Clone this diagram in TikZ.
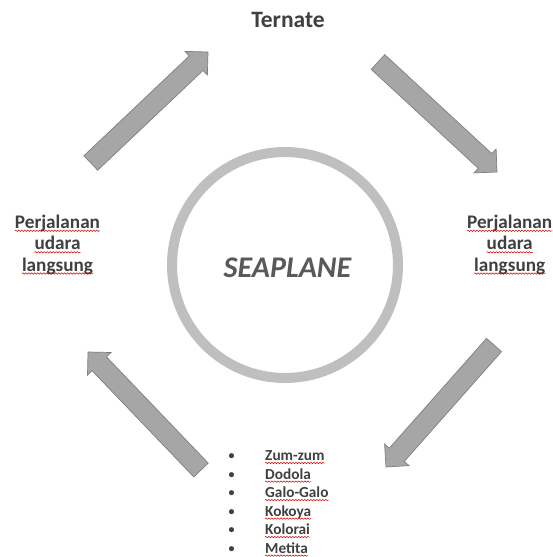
\documentclass[tikz,border=0pt]{standalone}
\usepackage{fontspec}
\setmainfont{Carlito}
\usetikzlibrary{calc,decorations.pathmorphing}
\definecolor{txt}{HTML}{404040}
\definecolor{seatxt}{HTML}{595959}
\definecolor{ring}{HTML}{BFBFBF}
\definecolor{afill}{HTML}{A6A6A6}
\definecolor{aline}{HTML}{7F7F7F}
\newcommand\blockarr[2]{%
  \coordinate (bt) at (#1);
  \coordinate (bh) at ($(#2)!16.3pt!(#1)$);
  \draw[barrow] ($(bt)!10pt!-90:(bh)$) -- ($(bh)!10pt!90:(bt)$) -- ($(bh)!16.3pt!90:(bt)$)
    -- (#2) -- ($(bh)!16.3pt!-90:(bt)$) -- ($(bh)!10pt!-90:(bt)$) -- ($(bt)!10pt!90:(bh)$) -- cycle;}
\begin{document}
\begin{tikzpicture}[x=1pt,y=-1pt,
  barrow/.style={fill=afill,draw=aline,line width=0.7pt,line join=miter},
  lbl/.style={text=txt,font=\fontsize{19.2}{21.5}\selectfont\bfseries,align=center,anchor=base,inner sep=0pt},
  item/.style={text=txt,font=\fontsize{15.3}{18}\selectfont\bfseries,anchor=base west,inner sep=0pt},
  bul/.style={text=txt,font=\fontsize{12}{18}\selectfont\bfseries,anchor=base,inner sep=0pt},
  spell/.style={draw=red!85!black,line width=0.5pt,decorate,decoration={snake,amplitude=0.7pt,segment length=3pt}}]
\useasboundingbox (0,0) rectangle (553,557);
\fill[white] (0,0) rectangle (553,557);
% ring
\node (ringc) at (285,265) [circle,draw=ring,line width=10pt,minimum size=226pt,inner sep=0pt] {};
\node (sea) at (287.5,277.3) [anchor=base,inner sep=0pt,text=seatxt,font=\fontsize{30}{32}\selectfont\bfseries\itshape] {SEAPLANE};
% title
\node (ternate) at (288,27) [anchor=base,inner sep=0pt,text=txt,font=\fontsize{23.5}{26}\selectfont\bfseries] {Ternate};
% left label
\foreach \w/\yy/\nm in {Perjalanan/228.3/la, udara/249.8/lb, langsung/271/lc}{
  \node[lbl] (\nm) at (57.5,\yy) {\w};
  \draw[spell] ($(\nm.base west)+(0,2.5)$) -- ($(\nm.base east)+(0,2.5)$);
}
% right label
\foreach \w/\yy/\nm in {Perjalanan/228.3/ra, udara/249.8/rb, langsung/271/rc}{
  \node[lbl] (\nm) at (509.7,\yy) {\w};
  \draw[spell] ($(\nm.base west)+(0,2.5)$) -- ($(\nm.base east)+(0,2.5)$);
}
% bullets
\foreach \w/\yy/\nm in {Zum-zum/460.7/ia, Dodola/479.3/ib, Galo-Galo/497.8/ic, Kokoya/516.3/id, Kolorai/534.8/ie, Metita/553.3/if}{
  \node[bul] (b\nm) at (231.7,\yy-1) {•};
  \node[item] (\nm) at (265,\yy) {\w};
  \draw[spell] ($(\nm.base west)+(0,2.3)$) -- ($(\nm.base east)+(0,2.3)$);
}
% arrows
\coordinate (a1t) at (90.8,163);  \coordinate (a1h) at (208,52);
\coordinate (a2t) at (378,62);    \coordinate (a2h) at (497,172);
\coordinate (a3t) at (494,345);   \coordinate (a3h) at (386,467);
\coordinate (a4t) at (201,470);   \coordinate (a4h) at (88,352);
\blockarr{a1t}{a1h}
\blockarr{a2t}{a2h}
\blockarr{a3t}{a3h}
\blockarr{a4t}{a4h}
\end{tikzpicture}
\end{document}
